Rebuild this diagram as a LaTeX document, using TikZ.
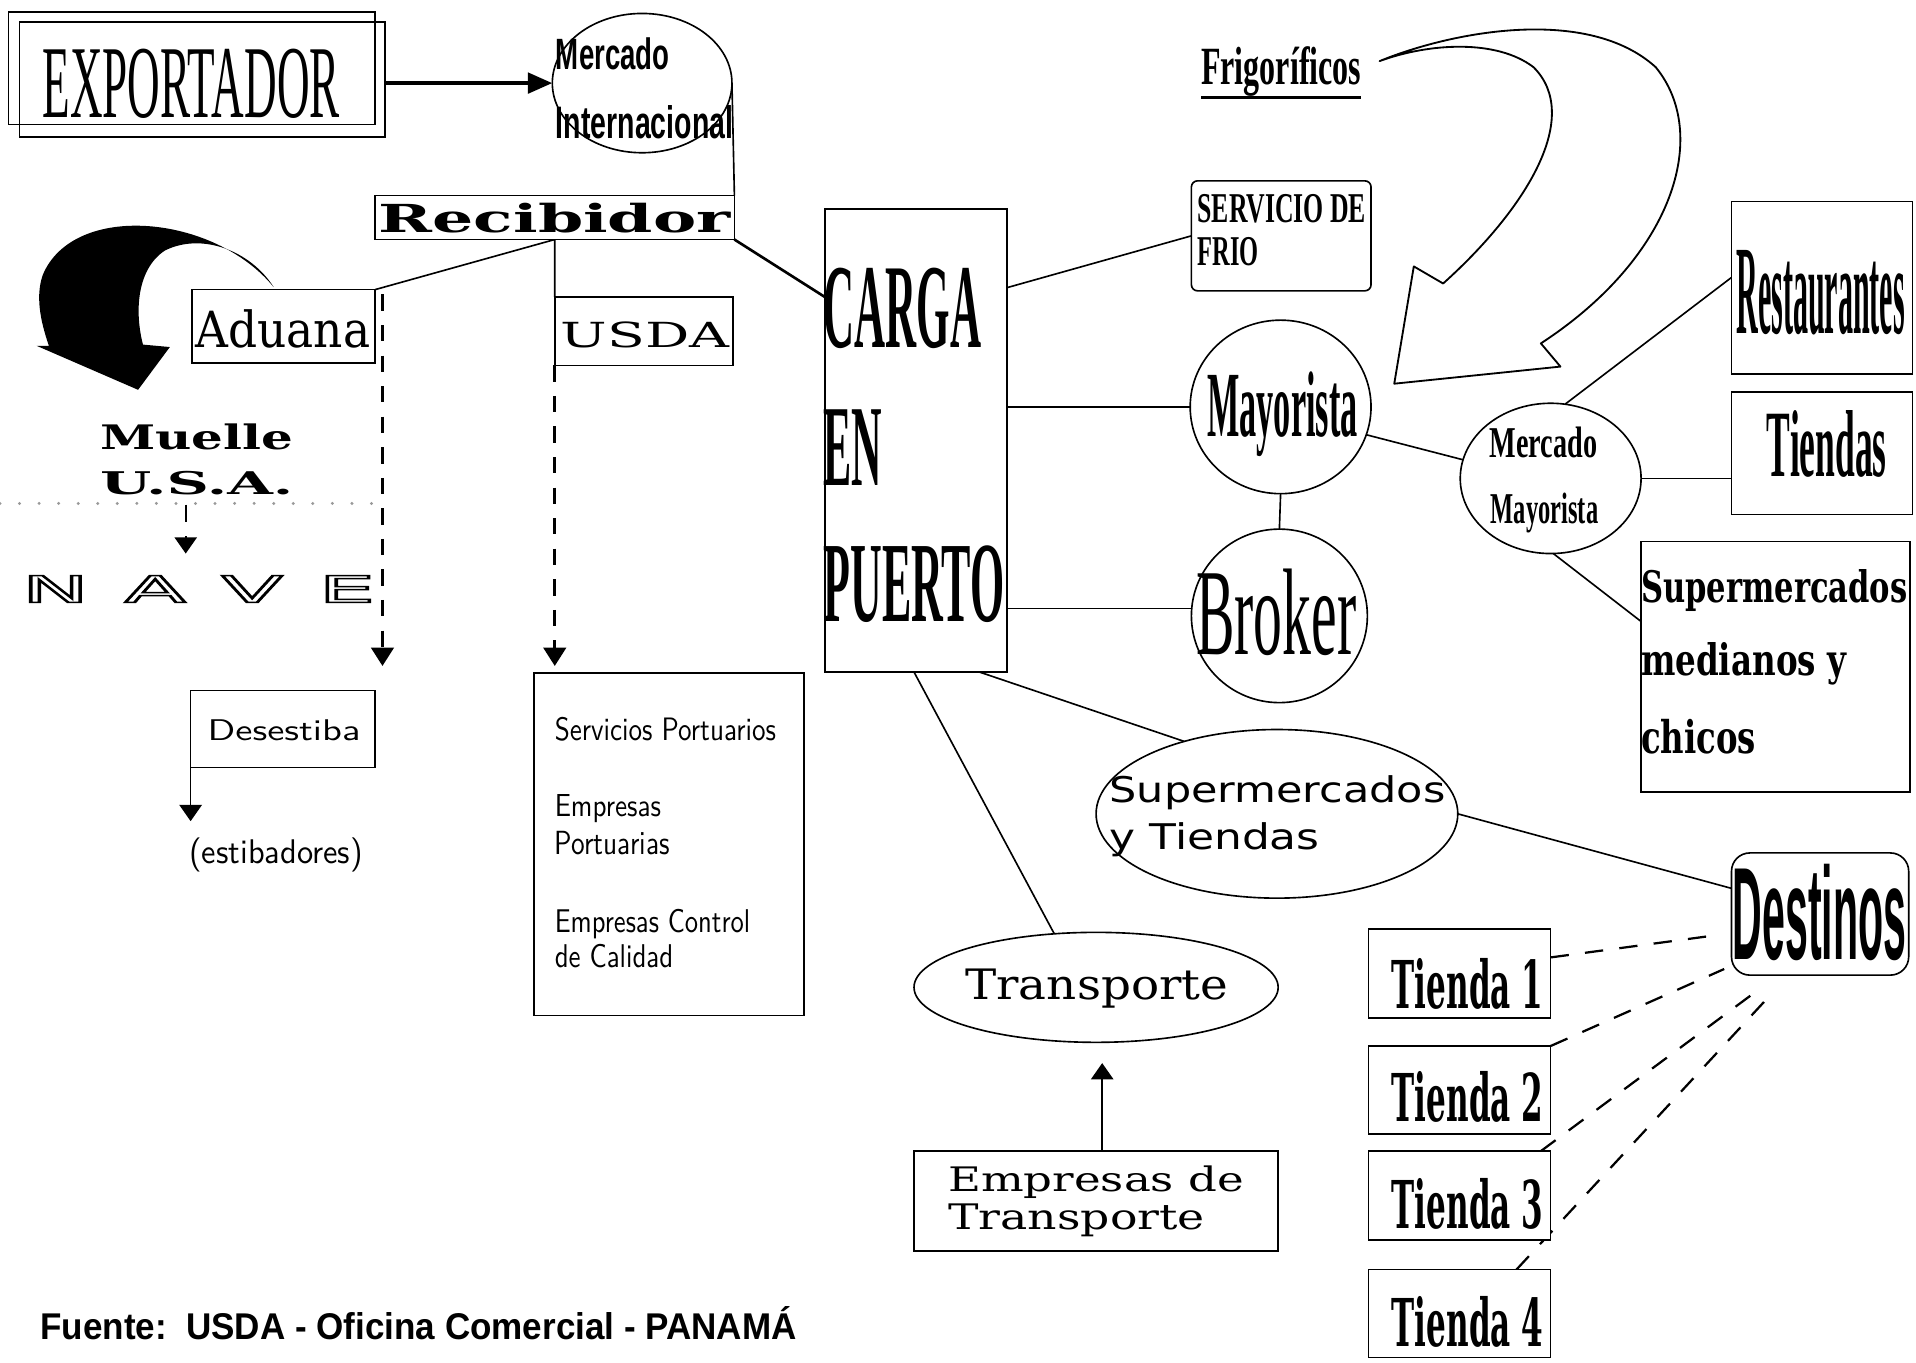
\documentclass[tikz,border=0pt]{standalone}
\usepackage{fontspec}
\usepackage{graphicx}
\usetikzlibrary{shapes.geometric,calc,backgrounds,arrows.meta}
\newfontfamily\fLS{Liberation Serif}
\newfontfamily\fLA{Liberation Sans}
\newfontfamily\fDS{DejaVu Serif}
\newfontfamily\fDA{DejaVu Sans}
\newlength\U
\setlength\U{0.6pt}
\newcommand\tx[7]{\node[anchor=base west,inner sep=0pt,outer sep=0pt] (#1) at (#3,#4) {\resizebox{#5\U}{#6\U}{#2#7}};}
\newcommand\bx[6][]{\node[boxst,minimum width={(#5-#3)*0.6pt},minimum height={(#6-#4)*0.6pt},#1] (#2) at ({(#3+#5)/2},{(#4+#6)/2}) {};}
\newcommand\el[6][]{\node[ellst,minimum width={2*#5*0.6pt},minimum height={2*#6*0.6pt},#1] (#2) at (#3,#4) {};}
\newcommand\outl[1]{\special{pdf:literal direct 1 Tr 0.4 w}#1\special{pdf:literal direct 0 Tr}}
\tikzset{
 boxst/.style={draw,rectangle,inner sep=0pt,outer sep=0pt,fill=white,line width=0.8pt},
 ellst/.style={draw,ellipse,inner sep=0pt,outer sep=0pt,line width=0.8pt},
 conn/.style={line width=0.8pt},
 bigarr/.style={line width=2pt,-{Triangle[length=12pt,width=10pt]}},
 dasharr/.style={line width=1.6pt,dash pattern=on 8pt off 7pt,-{Triangle[length=9pt,width=11pt]}},
 smallarr/.style={line width=0.8pt,-{Triangle[length=8pt,width=11pt]}},
 tdash/.style={line width=1.1pt,dash pattern=on 9pt off 8pt},
}
\begin{document}
\begin{tikzpicture}[x=0.6pt,y=-0.6pt]
\useasboundingbox (0,0) rectangle (1568,1115);
% ---------- shapes ----------
\bx[fill=none]{expa}{7}{10}{307}{102}
\bx[fill=none]{exp}{16}{18}{315}{112}
\el{mi}{525.5}{68}{73.5}{57}
\bx{rec}{307}{160}{601}{196}
\bx{adu}{157}{237}{307}{297}
\bx{usda}{454}{243}{600}{299}
\bx{des}{156}{565}{307}{628}
\bx{serv}{437}{551}{658}{831}
\bx{carga}{675}{171}{824}{550}
\bx[rounded corners=3pt]{sfrio}{975}{148}{1122}{238}
\el{may}{1048}{333}{74}{71}
\el{bro}{1047}{504}{72}{71}
\el{mm}{1269}{391.5}{74}{61.5}
\bx{rest}{1417}{165}{1565}{306}
\bx{tien}{1417}{321}{1565}{421}
\bx{smc}{1343}{443}{1563}{648}
\el{sup}{1045}{666}{148}{69}
\bx[rounded corners=9pt]{dest}{1417}{698}{1562}{798}
\el{transp}{897}{808}{149}{45}
\bx{emp}{748}{942}{1046}{1024}
\bx{t1}{1120}{760}{1269}{833}
\bx{t2}{1120}{856}{1269}{928}
\bx{t3}{1120}{942}{1269}{1015}
\bx{t4}{1120}{1039}{1269}{1111}
% black curved arrow
\fill[black] (224,235) .. controls (175,175) and (60,165) .. (35,225)
  .. controls (28,245) and (35,268) .. (40,283) -- (30,283) -- (113,319) -- (139,284) -- (117,282)
  .. controls (110,255) and (112,220) .. (135,205) .. controls (165,190) and (205,205) .. (224,235) -- cycle;
% outlined curved arrow (Frigorificos)
\draw[line width=0.9pt,line join=round] (1129,50) .. controls (1190,25) and (1300,5) .. (1355,55)
  .. controls (1400,110) and (1370,210) .. (1261,281) -- (1277,300) -- (1141,314) -- (1157,218) -- (1181,232)
  .. controls (1250,170) and (1295,95) .. (1255,55) .. controls (1225,32) and (1170,35) .. (1129,50) -- cycle;
% dotted line
\draw[gray!80,line width=1.6pt,line cap=round,dash pattern=on 0pt off 9.6pt] (0,412) -- (305,412);
% ---------- texts ----------
\tx{texp}{\fLS}{35}{96}{243}{56}{EXPORTADOR}
\tx{tmi1}{\fLA\bfseries}{455}{57}{93}{26}{Mercado}
\tx{tmi2}{\fLA\bfseries}{455}{113}{145}{27}{Internacional}
\tx{trec}{\fDS\bfseries}{310}{190}{288}{24}{Recibidor}
\tx{tadu}{\fDS}{160}{284}{143}{31}{Aduana}
\tx{tusda}{\fDS}{459}{284}{138}{21}{USDA}
\tx{tmue}{\fDS\bfseries}{82}{368}{158}{21}{Muelle}
\tx{tusa}{\fDS\bfseries}{82}{405}{158}{19}{U.S.A.}
\tx{tnave}{\fDA}{18}{493}{289}{22}{\outl{N\hspace{0.4em}A\hspace{0.4em}V\hspace{0.4em}E}}
\tx{tdes}{\sffamily}{170}{606}{125}{17}{Desestiba}
\tx{test}{\sffamily}{155}{707}{142}{21}{(estibadores)}
\tx{ts1}{\sffamily}{454}{606}{181}{19}{Servicios Portuarios}
\tx{ts2}{\sffamily}{454}{668}{87}{18}{Empresas}
\tx{ts3}{\sffamily}{454}{699}{94}{19}{Portuarias}
\tx{ts4}{\sffamily}{454}{763}{160}{19}{Empresas Control}
\tx{ts5}{\sffamily}{454}{792}{97}{19}{de Calidad}
\tx{tc1}{\fLS\bfseries}{674}{284}{129}{65}{CARGA}
\tx{tc2}{\fLS\bfseries}{674}{397}{48}{62}{EN}
\tx{tc3}{\fLS\bfseries}{674}{509}{148}{62}{PUERTO}
\tx{tsf1}{\fLS\bfseries}{980}{182}{138}{23}{SERVICIO DE}
\tx{tsf2}{\fLS\bfseries}{980}{217}{50}{23}{FRIO}
\tx{tfrig}{\fLS\bfseries}{983}{69}{131}{31}{Frigoríficos}
\tx{tmay}{\fLS\bfseries}{988}{357}{123}{53}{Mayorista}
\tx{tbro}{\fLS}{979}{536}{131}{70}{Broker}
\tx{tmm1}{\fLS\bfseries}{1219}{374}{88}{25}{Mercado}
\tx{tmm2}{\fLS\bfseries}{1220}{428}{88}{25}{Mayorista}
\tx{trest}{\fLS\bfseries}{1421}{273}{138}{68}{Restaurantes}
\tx{ttien}{\fLS\bfseries}{1446}{390}{98}{54}{Tiendas}
\tx{tsm1}{\fDS\bfseries}{1343}{493}{218}{27}{Supermercados}
\tx{tsm2}{\fDS\bfseries}{1343}{553}{168}{27}{medianos y}
\tx{tsm3}{\fDS\bfseries}{1343}{617}{94}{28}{chicos}
\tx{tsup1}{\fDA}{908}{657}{275}{22}{Supermercados}
\tx{tsup2}{\fDA}{908}{695}{172}{22}{y Tiendas}
\tx{ttr}{\fDS}{790}{818}{215}{25}{Transporte}
\tx{temp1}{\fDS}{776}{975}{242}{21}{Empresas de}
\tx{temp2}{\fDS}{776}{1006}{210}{21}{Transporte}
\tx{tdest}{\fLA\bfseries}{1418}{785}{142}{78}{Destinos}
\tx{tt1}{\fDS\bfseries}{1139}{825}{124}{41}{Tienda 1}
\tx{tt2}{\fDS\bfseries}{1139}{918}{124}{41}{Tienda 2}
\tx{tt3}{\fDS\bfseries}{1139}{1005}{124}{41}{Tienda 3}
\tx{tt4}{\fDS\bfseries}{1139}{1102}{124}{41}{Tienda 4}
\tx{tfue}{\fLA\bfseries}{33}{1096}{619}{27}{Fuente:\ \ USDA - Oficina Comercial - PANAMÁ}
\draw[line width=1.8pt] ($(tfrig.south west)+(0,1)$) -- ($(tfrig.south east)+(0,1)$);
\coordinate (mq) at (152,413);
\coordinate (mn) at (152,453);
% ---------- connectors ----------
\begin{pgfonlayer}{background}
\fill[white] (0,0) rectangle (1568,1115);
\draw[bigarr] (exp.east |- mi.west) -- (mi.west);
\draw[conn] (mi.east) -- (rec.north east);
\draw[conn,line width=1.3pt] (rec.south east) -- ($(carga.north west)!0.19!(carga.south west)$);
\draw[conn] (adu.north east) -- (rec.south -| usda.west) -- (usda.north west);
\draw[dasharr] ($(adu.north east)+(6,4)$) -- ($(des.north east)+(6,-20)$);
\draw[dasharr] (usda.south west) -- ($(serv.north west)+(17,-6)$);
\draw[smallarr] (des.south west) -- ($(test.north west)+(1,-14)$);
\draw[conn] (mq) -- ++(0,14);
\draw[smallarr] ($(mn)+(0,-14)$) -- (mn);
\draw[conn] ($(carga.north east)!0.17!(carga.south east)$) -- (sfrio.west);
\draw[conn] (carga.east |- may.west) -- (may.west);
\draw[conn] ($(carga.east |- bro.west)+(0,-6)$) -- ($(bro.west)+(0,-6)$);
\draw[conn] (may.south) -- (bro.north);
\draw[conn] (may.-18) -- (mm.168);
\draw[conn] (mm.79) -- ($(rest.north west)!0.44!(rest.south west)$);
\draw[conn] (mm.east) -- (mm.east -| tien.west);
\draw[conn] (mm.-88) -- ($(smc.north west)!0.32!(smc.south west)$);
\draw[conn] ($(carga.south west)!0.85!(carga.south east)$) -- (sup.142);
\draw[conn] (sup.east) -- ($(dest.north west)!0.29!(dest.south west)$);
\draw[conn] ($(carga.south west)!0.49!(carga.south east)$) -- (transp.128);
\draw[smallarr] ($(emp.north)+(5,0)$) -- ($(transp.south)+(5,17)$);
\draw[tdash] ($(t1.east)+(0,-13)$) -- ($(dest.west)+(-10,17)$);
\draw[tdash] (t2.north east) -- ($(dest.south west)+(-6,-5)$);
\draw[tdash] ($(t3.north east)+(-8,0)$) -- ($(dest.south west)+(26,9)$);
\draw[tdash] ($(t4.north east)+(-28,0)$) -- ($(dest.south west)+(33,15)$);
\end{pgfonlayer}
\end{tikzpicture}
\end{document}
